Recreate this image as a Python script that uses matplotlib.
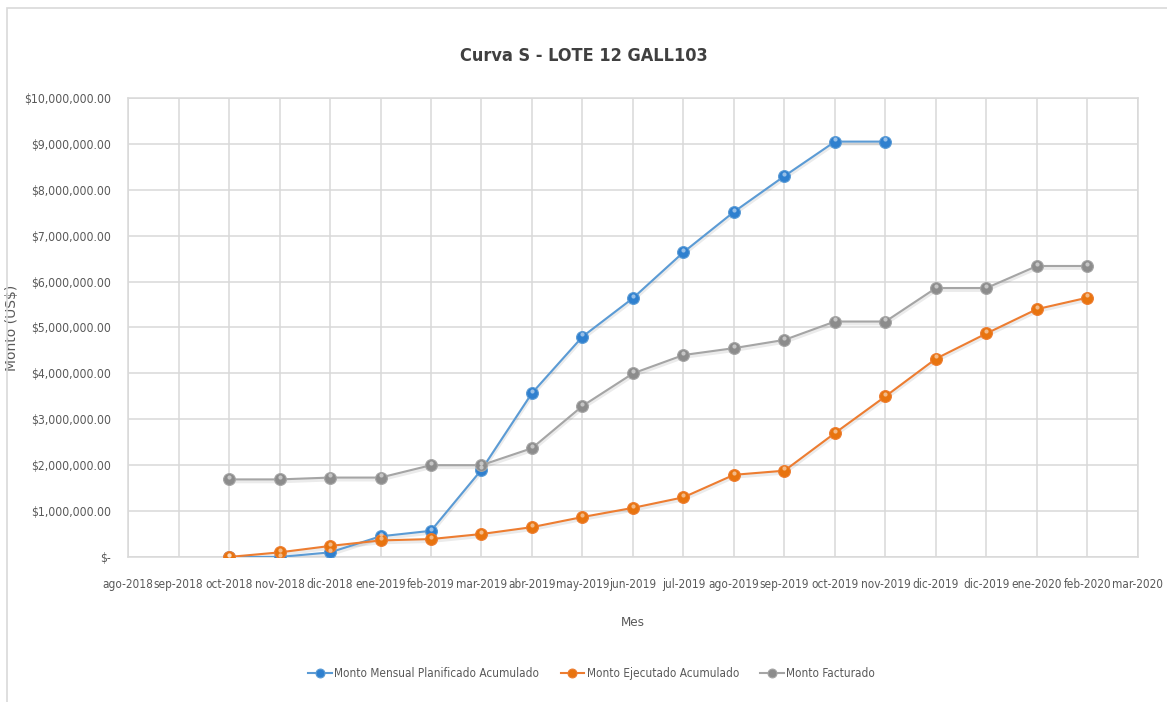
import numpy as np
import matplotlib
matplotlib.use("Agg")
import matplotlib.pyplot as plt
from matplotlib.ticker import FuncFormatter
from matplotlib.patches import Rectangle

plt.rcParams['font.family'] = ['DejaVu Sans']
plt.rcParams['font.stretch'] = 'condensed'

meses = ["ago-2018", "sep-2018", "oct-2018", "nov-2018", "dic-2018", "ene-2019",
         "feb-2019", "mar-2019", "abr-2019", "may-2019", "jun-2019", "jul-2019",
         "ago-2019", "sep-2019", "oct-2019", "nov-2019", "dic-2019", "dic-2019",
         "ene-2020", "feb-2020", "mar-2020"]

nan = np.nan
# montos en US$
planificado = [nan, nan, 0, 0, 100000, 450000, 570000, 1900000, 3570000, 4800000,
               5640000, 6640000, 7520000, 8300000, 9050000, 9050000,
               nan, nan, nan, nan, nan]
ejecutado = [nan, nan, 0, 100000, 240000, 360000, 390000, 500000, 650000, 870000,
             1070000, 1300000, 1790000, 1880000, 2700000, 3500000, 4320000, 4870000,
             5400000, 5650000, nan]
facturado = [nan, nan, 1690000, 1690000, 1730000, 1730000, 2000000, 2000000, 2370000,
             3290000, 4000000, 4400000, 4550000, 4730000, 5130000, 5130000, 5860000,
             5860000, 6340000, 6340000, nan]

series = [
    ("Monto Mensual Planificado Acumulado", planificado, "#5B9BD5", "#2F80CF"),
    ("Monto Ejecutado Acumulado", ejecutado, "#ED7D31", "#E8740F"),
    ("Monto Facturado", facturado, "#A5A5A5", "#8C8C8C"),
]

fig = plt.figure(figsize=(11.67, 7.02), dpi=100)
fig.patches.append(Rectangle((0.006, -0.01), 0.999, 0.998, transform=fig.transFigure,
                             fill=False, edgecolor="#D9D9D9", linewidth=1.2))
ax = fig.add_axes([0.1097, 0.2066, 0.8654, 0.6538])

x = np.arange(len(meses))
for nombre, vals, color, mcolor in series:
    y = np.array(vals, dtype=float)
    ax.plot(x, y - 40000, color="#000000", alpha=0.08, linewidth=3, zorder=2)
    ax.plot(x, y, color=color, linewidth=1.5, marker="o", markersize=8.5,
            markerfacecolor=mcolor, markeredgecolor=color, markeredgewidth=0.8,
            label=nombre, zorder=3)
    ax.plot(x, y + 50000, linestyle="none", marker="o", markersize=3,
            markerfacecolor="white", markeredgewidth=0, alpha=0.5, zorder=4)

ax.set_xlim(0, len(meses) - 1)
ax.set_ylim(0, 10000000)
ax.set_yticks(np.arange(0, 10000001, 1000000))
ax.set_xticks(x)
ax.set_xticklabels(meses)


def fmt(v, pos):
    if v == 0:
        return "$-"
    return "${:,.2f}".format(v)


ax.yaxis.set_major_formatter(FuncFormatter(fmt))
ax.grid(True, color="#D9D9D9", linewidth=1.1)
ax.set_axisbelow(True)
for s in ax.spines.values():
    s.set_color("#D9D9D9")
    s.set_linewidth(1.1)
ax.tick_params(length=0, colors="#595959")
ax.tick_params(axis="x", pad=15, labelsize=8.5)
ax.tick_params(axis="y", pad=12, labelsize=8.7)

ax.set_xlabel("Mes", fontsize=9.5, color="#595959", labelpad=18)
ax.set_ylabel("Monto (US$)", fontsize=10, color="#595959", fontstretch="normal")
ax.yaxis.set_label_coords(-0.108, 0.5)
fig.text(0.5, 0.92, "Curva S - LOTE 12 GALL103", ha="center", va="center",
         fontsize=13, fontweight="bold", color="#404040")

leg = fig.legend(loc="center", bbox_to_anchor=(0.507, 0.041), ncol=3, frameon=False,
                 fontsize=8.5, handlelength=2.0, columnspacing=1.8, handletextpad=0.2,
                 markerscale=0.75)
for t in leg.get_texts():
    t.set_color("#595959")

fig.savefig("out.png", dpi=100)
